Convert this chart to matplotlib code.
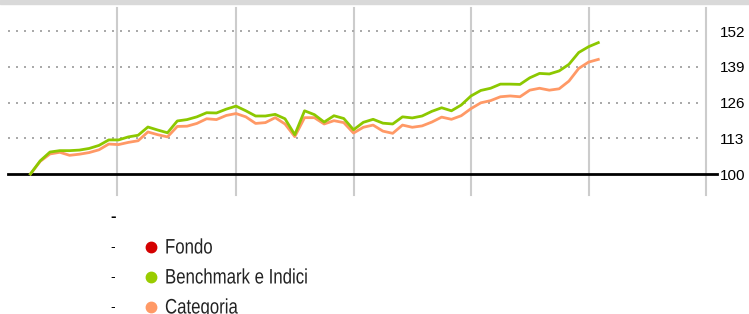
import numpy as np
import matplotlib.pyplot as plt
from matplotlib.lines import Line2D
from matplotlib.patches import Rectangle, PathPatch
from matplotlib.textpath import TextPath
from matplotlib.font_manager import FontProperties
from matplotlib.transforms import Affine2D

# valori (mensili, base 100)
benchmark = [100, 104.8, 108.0, 108.5, 108.5, 108.7, 109.3, 110.4, 112.4, 112.4,
             113.5, 114.1, 117.1, 116.0, 115.0, 119.3, 119.8, 120.8, 122.3, 122.2,
             123.6, 124.7, 123.0, 121.1, 121.1, 121.7, 120.1, 114.3, 123.0, 121.6,
             118.9, 121.2, 120.2, 116.1, 118.8, 119.9, 118.5, 118.2, 120.8, 120.4,
             121.1, 122.8, 124.1, 123.0, 125.1, 128.4, 130.4, 131.2, 132.7, 132.7,
             132.6, 135.0, 136.6, 136.4, 137.5, 139.9, 144.2, 146.3, 147.8]
categoria = [100, 104.6, 107.3, 107.9, 106.8, 107.2, 107.8, 108.8, 110.9, 110.7,
             111.5, 112.1, 115.3, 114.3, 113.5, 117.3, 117.4, 118.4, 120.1, 119.8,
             121.3, 122.0, 120.8, 118.4, 118.7, 120.5, 118.2, 113.6, 120.5, 120.5,
             118.2, 119.4, 118.7, 114.9, 117.0, 117.8, 115.6, 114.8, 117.8, 117.0,
             117.5, 118.9, 120.7, 119.9, 121.2, 123.8, 125.9, 126.7, 128.1, 128.4,
             128.1, 130.5, 131.2, 130.5, 131.0, 133.8, 138.4, 140.7, 141.7]
months = np.arange(len(benchmark))

year_lines = [8.8, 21, 33, 45, 57, 69]
y_ticks = [100, 113, 126, 139, 152]

legend_labels = ['Fondo', 'Benchmark e Indici', 'Categoria']
legend_colors = ['#d40000', '#99cc00', '#ff9966']

W, H = 749, 314
fig = plt.figure(figsize=(W / 100, H / 100), dpi=100)
fig.patches.append(Rectangle((0, 1 - 4 / H), 1, 4 / H, transform=fig.transFigure,
                             color='#d9d9d9', zorder=0))

ax = fig.add_axes([8 / W, 1 - 195 / H, (706 - 8) / W, (195 - 8) / H])
ax.set_xlim(-2.29, 69.0)
ax.set_ylim(92.36, 160.4)

for x in year_lines:
    ax.axvline(x, color='#cccccc', lw=1.5, zorder=1, clip_on=False)
for y in y_ticks[1:]:
    ax.plot([-2.29, 68.4], [y, y], color='#aaaaaa', lw=1.44,
            linestyle=(0, (1, 3)), zorder=1)
ax.plot([-2.29, 70.1], [100, 100], color='black', lw=2, zorder=2, clip_on=False)

ax.plot(months, categoria, color=legend_colors[2], lw=2, zorder=3)
ax.plot(months, benchmark, color='#8cc800', lw=2, zorder=4)

ax.yaxis.tick_right()
ax.set_yticks(y_ticks)
ax.set_yticklabels([str(v) for v in y_ticks], fontsize=11, family='Liberation Sans')
ax.tick_params(axis='y', length=0, pad=10)
ax.set_xticks([])
for s in ax.spines.values():
    s.set_visible(False)

# legenda (testo "condensed" ottenuto scalando il tracciato del font)
fig.text(110 / W, 1 - 217 / H, '-', fontsize=12, fontweight='bold',
         ha='left', va='center', family='Liberation Sans')
prop = FontProperties(family='Liberation Sans')
row_y = [247, 277, 307]
for lab, col, yy in zip(legend_labels, legend_colors, row_y):
    fy = 1 - yy / H
    fig.text(110 / W, fy, '-', fontsize=10, ha='left', va='center', family='Liberation Sans')
    fig.add_artist(Line2D([151 / W], [fy], marker='o', markersize=7.5, color=col,
                          transform=fig.transFigure))
    tp = TextPath((0, 0), lab, size=21, prop=prop)
    tr = Affine2D().scale(0.8, 1.0).translate(165, H - (yy + 6.5))
    fig.add_artist(PathPatch(tp, transform=tr, facecolor='#222222', lw=0))

fig.savefig('out.png', dpi=100)
